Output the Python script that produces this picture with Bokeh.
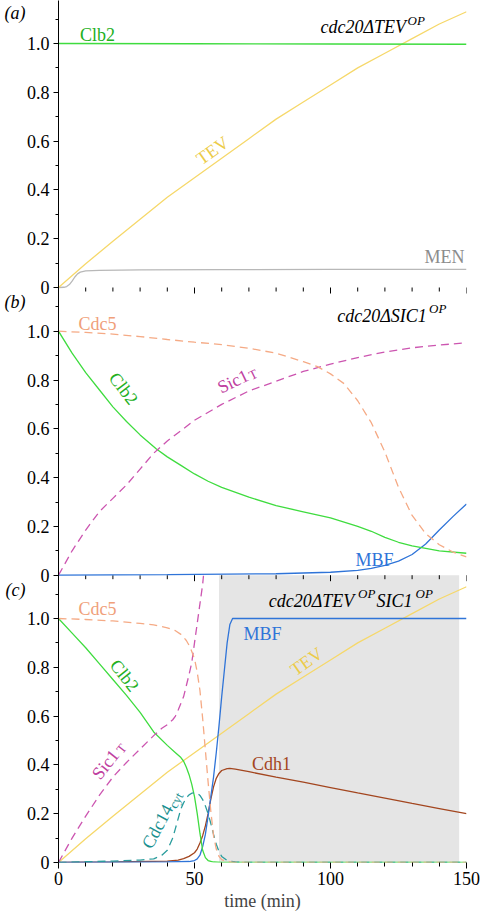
from bokeh.plotting import figure
from bokeh.models import (Range1d, FixedTicker, LinearAxis, Label, BoxAnnotation,
                          CustomJSTickFormatter)
from bokeh.embed import file_html
from bokeh.resources import INLINE

SERIF = "'Liberation Serif', 'Times New Roman', serif"

# ---------------- data ----------------
y_ticks = [0, 0.2, 0.4, 0.6, 0.8, 1.0]
y_minor = [0.1, 0.3, 0.5, 0.7, 0.9, 1.1]
x_ticks = [0, 50, 100, 150]
x_minor = [10, 20, 30, 40, 60, 70, 80, 90, 110, 120, 130, 140]
panel_letters = ["(a)", "(b)", "(c)"]

# TEV (panels a and c)
time_tev = [0, 10, 20, 30, 40, 50, 60, 70, 80, 90, 100, 110, 120, 130, 140, 150]
tev = [0, 0.097, 0.19, 0.28, 0.37, 0.45, 0.53, 0.61, 0.69, 0.76, 0.83, 0.90, 0.96, 1.02, 1.08, 1.13]

# panel a
time_a_clb2 = [0, 50, 100, 150]
a_clb2 = [1.0, 0.999, 0.998, 0.997]
time_men = [0, 2, 3, 4, 5, 6, 7, 8, 10, 15, 30, 60, 100, 150]
men = [0, 0.001, 0.004, 0.012, 0.026, 0.043, 0.056, 0.063, 0.068, 0.07, 0.072, 0.073, 0.074, 0.074]

# panel b
time_b_clb2 = [0, 5, 10, 15, 20, 25, 30, 36, 40, 45, 50, 55, 60, 70, 80, 90, 100, 110, 115, 120, 125, 130, 135, 140, 150]
b_clb2 = [1.0, 0.91, 0.83, 0.76, 0.69, 0.63, 0.575, 0.517, 0.485, 0.45, 0.415, 0.385, 0.36, 0.32, 0.285, 0.26,
          0.235, 0.20, 0.18, 0.155, 0.135, 0.12, 0.11, 0.10, 0.09]
time_b_cdc5 = [0, 10, 20, 30, 40, 50, 60, 70, 80, 85, 90, 95, 100, 105, 110, 115, 120, 125, 130, 135, 140, 145, 150]
b_cdc5 = [1.0, 0.995, 0.988, 0.978, 0.966, 0.955, 0.945, 0.93, 0.91, 0.893, 0.875, 0.856, 0.825, 0.785, 0.715,
          0.625, 0.505, 0.36, 0.245, 0.17, 0.125, 0.095, 0.075]
time_b_sic1 = [0, 5, 10, 15, 20, 25, 30, 35, 40, 50, 60, 70, 80, 90, 100, 110, 120, 130, 140, 150]
b_sic1 = [0, 0.1, 0.185, 0.26, 0.315, 0.37, 0.435, 0.5, 0.55, 0.635, 0.70, 0.755, 0.795, 0.835, 0.865, 0.892,
          0.915, 0.932, 0.943, 0.953]
time_b_mbf = [0, 40, 80, 100, 110, 115, 120, 125, 130, 135, 140, 145, 150]
b_mbf = [0, 0.002, 0.006, 0.012, 0.02, 0.028, 0.04, 0.058, 0.085, 0.128, 0.185, 0.24, 0.292]

# panel c
time_c_clb2 = [0, 5, 10, 15, 20, 25, 30, 35, 40, 43, 45, 46, 47, 48, 49, 50, 51, 52, 53, 54, 55, 57, 60, 150]
c_clb2 = [1.0, 0.94, 0.88, 0.815, 0.75, 0.685, 0.615, 0.535, 0.48, 0.45, 0.43, 0.415, 0.39, 0.36, 0.32, 0.27,
          0.2, 0.12, 0.05, 0.02, 0.008, 0.002, 0, 0]
time_c_cdc5 = [0, 10, 20, 30, 35, 40, 43, 45, 47, 48, 49, 50, 51, 52, 53, 54, 55, 56, 57, 58, 59, 60, 62, 65, 150]
c_cdc5 = [1.0, 0.996, 0.99, 0.98, 0.974, 0.962, 0.95, 0.935, 0.91, 0.89, 0.865, 0.835, 0.78, 0.705, 0.59, 0.46,
          0.33, 0.21, 0.11, 0.055, 0.025, 0.012, 0.003, 0, 0]
time_c_sic1 = [0, 5, 10, 15, 20, 25, 30, 35, 38, 40, 42, 43, 44, 46, 48, 49, 50, 51, 52, 53, 53.3]
c_sic1 = [0, 0.1, 0.19, 0.275, 0.35, 0.41, 0.465, 0.52, 0.55, 0.565, 0.585, 0.6, 0.625, 0.68, 0.77, 0.82, 0.9,
          0.98, 1.06, 1.14, 1.175]
time_c_cdc14 = [0, 10, 20, 30, 35, 38, 40, 42, 43, 44, 45, 46, 47, 48, 49, 50, 51, 52, 53, 54, 55, 56, 57, 58,
                59, 60, 62, 65, 70, 150]
c_cdc14 = [0, 0.003, 0.006, 0.01, 0.015, 0.03, 0.05, 0.1, 0.14, 0.18, 0.22, 0.245, 0.265, 0.277, 0.284, 0.286,
           0.284, 0.275, 0.258, 0.232, 0.2, 0.16, 0.115, 0.075, 0.045, 0.025, 0.008, 0.002, 0, 0]
time_c_mbf = [0, 40, 48, 50, 51, 52, 53, 54, 55, 56, 57, 58, 59, 60, 61, 62, 63, 64, 150]
c_mbf = [0, 0.002, 0.004, 0.008, 0.015, 0.03, 0.065, 0.115, 0.19, 0.27, 0.35, 0.45, 0.56, 0.68, 0.79, 0.9,
         0.975, 1.0, 1.0]
time_c_cdh1 = [0, 20, 40, 44, 46, 48, 50, 51, 52, 53, 54, 55, 56, 57, 58, 59, 60, 62, 63, 65, 70, 80, 90, 100,
               110, 120, 130, 140, 150]
c_cdh1 = [0, 0.002, 0.006, 0.01, 0.016, 0.025, 0.04, 0.055, 0.08, 0.11, 0.15, 0.2, 0.26, 0.31, 0.345, 0.365,
          0.377, 0.385, 0.386, 0.383, 0.372, 0.35, 0.329, 0.307, 0.285, 0.264, 0.242, 0.221, 0.2]
shade_window = [59, 147.3]

# ---------------- colours ----------------
GREEN, GREEN_T = "#3fdc3f", "#22b022"
GOLD, GOLD_T = "#f6d86a", "#eccb48"
GREY, GREY_T = "#b8b8b8", "#8c8c8c"
SALMON, SALMON_T = "#f5aa85", "#f0a07a"
MAGENTA, MAGENTA_T = "#cc55b0", "#c040a0"
BLUE = "#2f74d8"
BROWN = "#a3461f"
TEAL, TEAL_T = "#2a9d9d", "#1a9090"

# ---------------- layout ----------------
FW, FH = 408, 862
ML, MT = 58, 0           # page position of frame left / top
XPX = FW / 150.0
YPX = 244.0
PANEL_OFF = {"c": 0.0, "b": 287.3 / YPX, "a": 575.0 / YPX}   # panel bottoms in main (panel c) units
BOTTOM = {k: MT + FH - v * YPX for k, v in PANEL_OFF.items()}


def yr(name):
    o = PANEL_OFF[name]
    return Range1d(-o, FH / YPX - o)


def rn(panel):
    return "default" if panel == "c" else panel


p = figure(frame_width=FW, frame_height=FH, x_range=Range1d(0, 150), y_range=yr("c"),
           output_backend="svg", toolbar_location=None,
           min_border_left=ML, min_border_right=15, min_border_top=0, min_border_bottom=0)
p.extra_y_ranges = {"a": yr("a"), "b": yr("b")}
p.xgrid.visible = False
p.ygrid.visible = False
p.outline_line_color = None
p.background_fill_color = "white"
p.border_fill_color = "white"

# ---- y axis: one axis carrying the ticks of all three panels ----
offs = [PANEL_OFF["c"], PANEL_OFF["b"], PANEL_OFF["a"]]
yax = p.yaxis[0]
yax.ticker = FixedTicker(ticks=[v + o for o in offs for v in y_ticks],
                         minor_ticks=[v + o for o in offs for v in y_minor])
yax.formatter = CustomJSTickFormatter(args=dict(oa=PANEL_OFF["a"], ob=PANEL_OFF["b"]), code="""
    let v = tick;
    if (tick >= oa - 1e-6) { v = tick - oa; } else if (tick >= ob - 1e-6) { v = tick - ob; }
    v = Math.round(v * 10) / 10;
    return v === 0 ? "0" : v.toFixed(1);
""")
yax.major_tick_in = 0
yax.major_tick_out = 5
yax.minor_tick_in = 0
yax.minor_tick_out = 3
yax.major_label_standoff = 4
yax.major_label_text_font = SERIF
yax.major_label_text_font_size = "18px"
yax.major_label_text_color = "black"
yax.axis_line_color = "black"
yax.major_tick_line_color = "black"
yax.minor_tick_line_color = "black"

# panel letters as an outer, tick-less axis
letter_pos = [PANEL_OFF["a"] + 1.123, PANEL_OFF["b"] + 1.118, PANEL_OFF["c"] + 1.115]
lax = LinearAxis(ticker=FixedTicker(ticks=letter_pos, minor_ticks=[]),
                 formatter=CustomJSTickFormatter(args=dict(names=panel_letters, pos=letter_pos), code="""
    let best = 0;
    for (let i = 0; i < pos.length; i++) { if (Math.abs(pos[i] - tick) < Math.abs(pos[best] - tick)) best = i; }
    return names[best];
"""))
lax.axis_line_color = None
lax.major_tick_line_color = None
lax.minor_tick_line_color = None
lax.major_tick_in = 0
lax.major_tick_out = 0
lax.major_label_standoff = -2
lax.major_label_text_font = SERIF
lax.major_label_text_font_size = "18px"
lax.major_label_text_font_style = "italic"
lax.major_label_text_color = "black"
p.add_layout(lax, "left")

# ---- bottom x axis ----
xax = p.xaxis[0]
xax.ticker = FixedTicker(ticks=x_ticks, minor_ticks=x_minor)
xax.major_tick_in = 0
xax.major_tick_out = 6
xax.minor_tick_in = 0
xax.minor_tick_out = 4
xax.axis_line_color = None
xax.major_tick_line_color = "black"
xax.minor_tick_line_color = "black"
xax.major_label_text_font = SERIF
xax.major_label_text_font_size = "18px"
xax.major_label_text_color = "black"
xax.major_label_standoff = 3
xax.axis_label = "time (min)"
xax.axis_label_text_font = SERIF
xax.axis_label_text_font_size = "18px"
xax.axis_label_text_font_style = "normal"
xax.axis_label_standoff = 3

# ---- tick marks hanging below the panel a / panel b boundaries (same ticker values) ----
for o in [PANEL_OFF["a"], PANEL_OFF["b"]]:
    p.segment(x0=x_minor, y0=[o] * len(x_minor), x1=x_minor, y1=[o - 4 / YPX] * len(x_minor),
              line_color="black", line_width=1)
    p.segment(x0=x_ticks, y0=[o] * len(x_ticks), x1=x_ticks, y1=[o - 6 / YPX] * len(x_ticks),
              line_color="black", line_width=1)

# shaded window in panel c
p.add_layout(BoxAnnotation(left=shade_window[0], right=shade_window[1], bottom=0, top=PANEL_OFF["b"],
                           fill_color="#e5e5e5", fill_alpha=1.0, line_color=None, level="underlay"))

LW = 1.3
DASH = "8 5"


def ln(t, v, panel, color, dash="solid"):
    p.line(t, v, y_range_name=rn(panel), line_color=color, line_width=LW, line_dash=dash)


# panel a
ln(time_men, men, "a", GREY)
ln(time_tev, tev, "a", GOLD)
ln(time_a_clb2, a_clb2, "a", GREEN)
# panel b
ln(time_b_mbf, b_mbf, "b", BLUE)
ln(time_b_clb2, b_clb2, "b", GREEN)
ln(time_b_sic1, b_sic1, "b", MAGENTA, DASH)
ln(time_b_cdc5, b_cdc5, "b", SALMON, DASH)
# panel c
ln(time_tev, tev, "c", GOLD)
ln(time_c_cdh1, c_cdh1, "c", BROWN)
ln(time_c_mbf, c_mbf, "c", BLUE)
ln(time_c_clb2, c_clb2, "c", GREEN)
ln(time_c_sic1, c_sic1, "c", MAGENTA, DASH)
ln(time_c_cdc14, c_cdc14, "c", TEAL, DASH)
ln(time_c_cdc5, c_cdc5, "c", SALMON, DASH)


def lab(text, px, py, panel, color="black", size="18px", style="normal", angle=0.0,
        align="center", baseline="middle"):
    p.add_layout(Label(x=(px - ML) / XPX, y=(BOTTOM[panel] - py) / YPX, y_range_name=rn(panel),
                       text=text, text_font=SERIF, text_font_size=size, text_font_style=style,
                       text_color=color, angle=angle, text_align=align, text_baseline=baseline))


# titles
lab("cdc20\u0394TEV", 320, 26, "a", style="italic", align="left", baseline="alphabetic")
lab("OP", 407, 19.5, "a", size="13px", style="italic", align="left", baseline="alphabetic")
lab("cdc20\u0394SIC1", 336.7, 315, "b", style="italic", align="left", baseline="alphabetic")
lab("OP", 428.5, 308, "b", size="13px", style="italic", align="left", baseline="alphabetic")
lab("cdc20\u0394TEV", 268.3, 600, "c", style="italic", align="left", baseline="alphabetic")
lab("OP", 357.5, 593, "c", size="13px", style="italic", align="left", baseline="alphabetic")
lab("SIC1", 376, 600, "c", style="italic", align="left", baseline="alphabetic")
lab("OP", 415, 593, "c", size="13px", style="italic", align="left", baseline="alphabetic")

# panel a labels
lab("Clb2", 97, 34, "a", GREEN_T)
lab("MEN", 444, 256, "a", GREY_T)
lab("TEV", 212, 150, "a", GOLD_T, angle=0.62)
# panel b labels
lab("Cdc5", 97, 323, "b", SALMON_T)
lab("MBF", 374, 559, "b", BLUE)
lab("Clb2", 123, 388, "b", GREEN_T, angle=-0.92)
lab("Sic1", 232.5, 381, "b", MAGENTA_T, angle=0.45)
lab("T", 252.5, 374, "b", MAGENTA_T, size="13px", angle=0.45)
# panel c labels
lab("Cdc5", 97, 608, "c", SALMON_T)
lab("MBF", 262, 633, "c", BLUE)
lab("Cdh1", 271, 763, "c", BROWN)
lab("Clb2", 124, 675, "c", GREEN_T, angle=-0.9)
lab("Sic1", 105, 764, "c", MAGENTA_T, angle=0.9)
lab("T", 121, 748, "c", MAGENTA_T, size="13px", angle=0.9)
lab("Cdc14", 157, 826, "c", TEAL_T, angle=1.08)
lab("cyt", 175.5, 800, "c", TEAL_T, size="13px", angle=1.08)
lab("TEV", 306, 661, "c", GOLD_T, angle=0.62)

open("out.html", "w").write(file_html(p, INLINE))
